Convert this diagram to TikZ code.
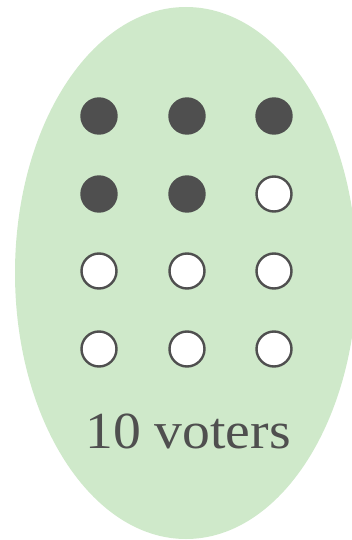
\documentclass[tikz,border=0pt]{standalone}
\usepackage{fontspec}
\setmainfont{Liberation Serif}
\usepackage{tikz}
\usetikzlibrary{shapes.geometric}
\definecolor{votergray}{HTML}{4F4F4F}
\definecolor{poolgreen}{HTML}{CFE9CA}

\begin{document}
\begin{tikzpicture}[x=1pt, y=-1pt,
	voter/.style={circle, minimum size=35pt, inner sep=0pt, line width=2.4pt, draw=votergray},
	yes/.style={voter, fill=votergray},
	no/.style={voter, fill=white}]
	\useasboundingbox (0,0) rectangle (351,540);
	\node[ellipse, fill=poolgreen, minimum width=342pt, minimum height=532pt, inner sep=0pt] (pool) at (186,273) {};
	\node[yes] (v11) at (99,116) {};
	\node[yes] (v12) at (187,116) {};
	\node[yes] (v13) at (274,116) {};
	\node[yes] (v21) at (99,194) {};
	\node[yes] (v22) at (187,194) {};
	\node[no] (v23) at (274,194) {};
	\node[no] (v31) at (99,271) {};
	\node[no] (v32) at (187,271) {};
	\node[no] (v33) at (274,271) {};
	\node[no] (v41) at (99,349) {};
	\node[no] (v42) at (187,349) {};
	\node[no] (v43) at (274,349) {};
	\node[anchor=base, text=votergray, font=\fontsize{52}{60}\selectfont, xscale=1.07, inner sep=0pt] (count) at (188,448) {10 voters};
\end{tikzpicture}
\end{document}
